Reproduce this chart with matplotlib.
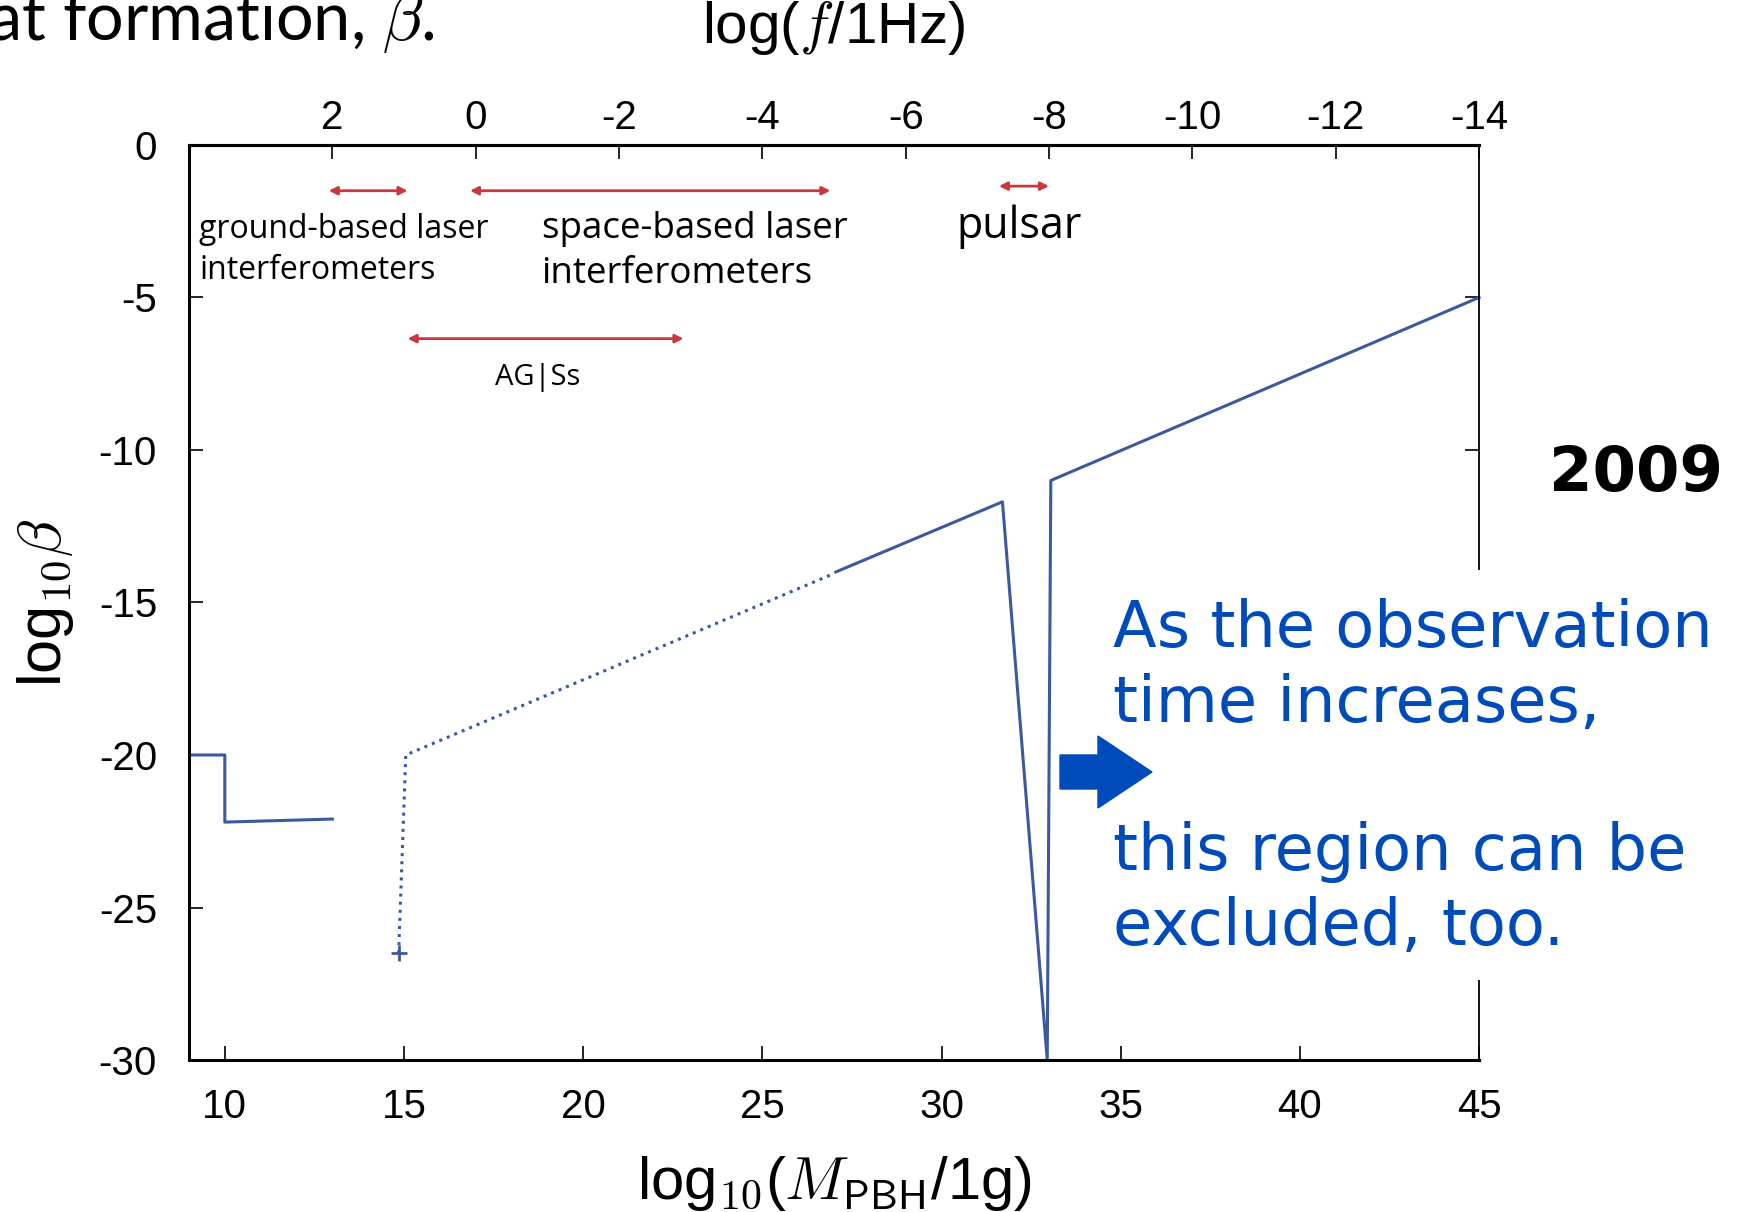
import numpy as np
import matplotlib
matplotlib.use('Agg')
import matplotlib.pyplot as plt
import matplotlib.patches as mpatches

plt.rcParams['font.family'] = ['Liberation Sans', 'DejaVu Sans']
plt.rcParams['mathtext.fontset'] = 'cm'
plt.rcParams['axes.unicode_minus'] = False

# bound on log10(beta) against log10(M_PBH/1g)
mass_low = [9.0, 10.0, 10.0, 13.0]
beta_low = [-20.0, -20.0, -22.2, -22.1]
mass_dot = [14.85, 15.05, 26.9]
beta_dot = [-26.5, -20.0, -14.1]
mass_high = [27.05, 31.7, 32.95, 33.05, 45.0]
beta_high = [-14.0, -11.7, -30.0, -11.0, -5.0]

# detector bands: frequency range in log(f/1Hz) and the row they sit on
band_f_start = [2.05, 0.08, 0.95, -7.3]
band_f_end = [0.95, -4.95, -2.9, -8.0]
band_beta = [-1.5, -1.5, -6.35, -1.35]

mass_ticks = [10, 15, 20, 25, 30, 35, 40, 45]
freq_ticks = [2, 0, -2, -4, -6, -8, -10, -12, -14]
beta_ticks = [0, -5, -10, -15, -20, -25, -30]

line_col = '#3b5a9e'
red = '#c8383c'
blue = '#004bbb'


def mass_to_freq(m):
    return 8.5 - 0.5 * np.asarray(m)


def freq_to_mass(f):
    return 17.0 - 2.0 * np.asarray(f)


fig = plt.figure(figsize=(17.37, 12.12), dpi=100)
ax = fig.add_axes([0.1088, 0.1254, 0.7427, 0.755])

ax.plot(mass_low, beta_low, color=line_col, lw=2.2)
ax.plot(mass_dot, beta_dot, color=line_col, lw=2.2, ls=':')
ax.plot(mass_dot[0], beta_dot[0], marker='+', ms=11, mew=2, color=line_col)
ax.plot(mass_high, beta_high, color=line_col, lw=2.2, clip_on=False)

for fs, fe, b in zip(band_f_start, band_f_end, band_beta):
    ax.annotate('', xy=(freq_to_mass(fe), b), xytext=(freq_to_mass(fs), b),
                arrowprops=dict(arrowstyle='<|-|>', color=red, lw=2,
                                mutation_scale=12, shrinkA=0, shrinkB=0))

ax.text(9.28, -3.45, 'ground-based laser\ninterferometers', family='Open Sans',
        fontsize=23, ha='left', va='center', linespacing=1.3)
ax.text(18.84, -3.5, 'space-based laser\ninterferometers', family='Open Sans',
        fontsize=26.5, ha='left', va='center', linespacing=1.35)
ax.text(32.17, -2.69, 'pulsar', family='Open Sans', fontsize=31,
        ha='center', va='center')
ax.text(18.74, -7.63, 'AG|Ss', family='Open Sans', fontsize=21,
        ha='center', va='center')

ax.set_xlim(9, 45)
ax.set_ylim(-30, 0)
ax.set_xticks(mass_ticks)
ax.set_yticks(beta_ticks)
ax.set_xticklabels([str(t) for t in mass_ticks])
ax.set_yticklabels([str(t) for t in beta_ticks])
ax.tick_params(axis='x', direction='in', length=10, width=1.2,
               labelsize=29, pad=20, top=False)
ax.tick_params(axis='y', direction='in', length=10, width=1.2,
               labelsize=29, pad=23, right=True)
for side in ['left', 'bottom', 'top']:
    ax.spines[side].set_linewidth(2.2)
ax.spines['right'].set_linewidth(1.3)

ax.set_xlabel(r'log$_{\mathsf{10}}$($M_{\mathsf{PBH}}$/1g)', fontsize=43,
              labelpad=20)
ax.set_ylabel(r'log$_{\mathsf{10}}\beta$', fontsize=44, labelpad=16)

secax = ax.secondary_xaxis('top', functions=(mass_to_freq, freq_to_mass))
secax.set_xticks(freq_ticks)
secax.set_xticklabels([str(t) for t in freq_ticks])
secax.tick_params(direction='in', length=10, width=1.2, labelsize=29, pad=6)
secax.spines['top'].set_linewidth(2.2)
secax.set_xlabel(r'log($f$/1Hz)', fontsize=42, labelpad=40)

# slide text around the figure
fig.text(-0.007, 1 - 40 / 1212, 'at formation, $\\beta$.', family='Lato',
         fontsize=48, ha='left', va='baseline')
fig.text(1636 / 1737, 1 - 474 / 1212, '2009', family='DejaVu Sans',
         fontweight='bold', fontsize=45, ha='center', va='center')

fig.patches.append(mpatches.Rectangle((1100 / 1737, 1 - 980 / 1212),
                                      1 - 1100 / 1737, 410 / 1212,
                                      transform=fig.transFigure,
                                      facecolor='white', edgecolor='none',
                                      zorder=2))
fig.patches.append(mpatches.FancyArrow(1060 / 1737, 1 - 772 / 1212,
                                       92 / 1737, 0, width=34 / 1212,
                                       head_width=72 / 1212,
                                       head_length=54 / 1737,
                                       length_includes_head=True,
                                       transform=fig.transFigure,
                                       color=blue, zorder=3))
fig.text(1113 / 1737, 1 - 778 / 1212,
         'As the observation\ntime increases,\n\nthis region can be\nexcluded, too.',
         family='DejaVu Sans', fontsize=46, color=blue, ha='left', va='center',
         linespacing=1.25, zorder=4)

fig.savefig('out.png', dpi=100)
